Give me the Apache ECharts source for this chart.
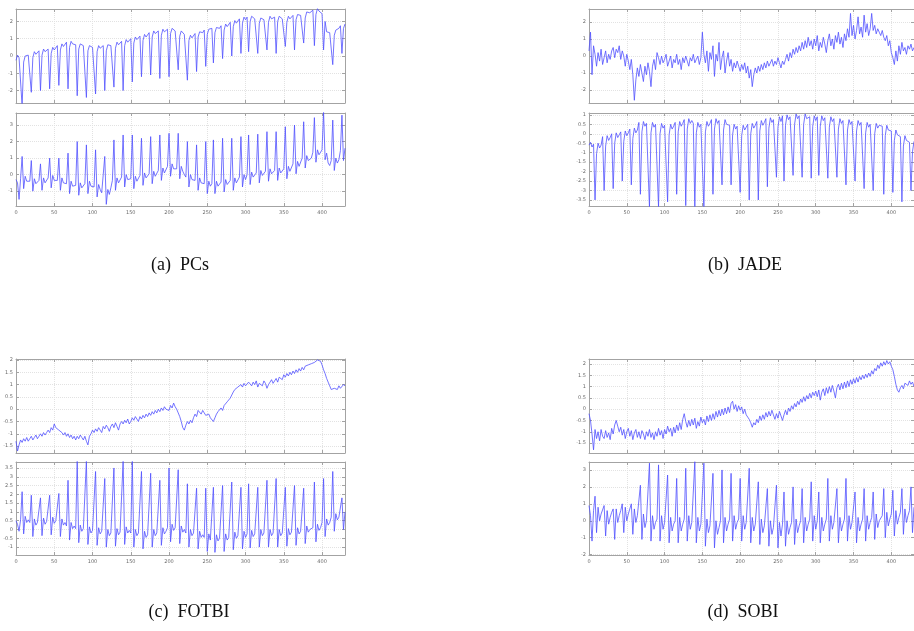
<!DOCTYPE html>
<html><head><meta charset="utf-8">
<script src="https://cdn.jsdelivr.net/npm/echarts@6/dist/echarts.min.js"></script>
<style>html,body{margin:0;padding:0;background:#fff}#c{width:914px;height:631px}</style>
</head><body><div id="c"></div>
<script>
// sample spacing along the x axis (samples are evenly spaced)
const SAMPLE_STEP = 2;
const X_MIN = 0, X_MAX = 430, X_TICK = 50;
const captions = ['(a)\u2002PCs', '(b)\u2002JADE', '(c)\u2002FOTBI', '(d)\u2002SOBI'];

// (a) PCs – upper trace
const pcsTop = [
-0.25,0.05,-0.1,
-0.1,-2.9,-0.35,0.0,-0.1,0.05,
0.15,-2.1,-0.1,0.25,0.1,0.15,
0.3,-2.0,0.05,0.4,0.25,0.3,
0.4,-1.9,0.15,0.5,0.35,0.4,
0.6,-1.7,0.35,0.7,0.55,0.6,
0.8,-1.9,0.5,0.85,0.7,0.75,
0.65,-2.3,0.4,0.7,0.6,0.6,
0.55,-2.4,0.3,0.6,0.5,0.5,
0.5,-2.2,0.25,0.6,0.45,0.5,
0.6,-2.0,0.3,0.65,0.55,0.6,
0.7,-1.8,0.45,0.8,0.65,0.7,
0.85,-2.0,0.6,0.95,0.8,0.85,
1.0,-1.5,0.75,1.1,0.95,1.0,
1.15,-1.2,0.9,1.25,1.1,1.2,
1.35,-1.1,1.1,1.45,1.3,1.35,
1.45,-1.3,1.2,1.55,1.4,1.45,
1.55,-1.2,1.3,1.6,1.5,1.45,
1.4,-0.8,1.15,1.45,1.35,1.25,
1.15,-1.4,0.9,1.2,1.05,1.15,
1.3,-0.9,1.1,1.4,1.3,1.35,
1.5,-0.6,1.25,1.55,1.45,
1.6,-0.4,1.35,1.65,1.55,1.6,
1.75,-0.15,1.5,1.85,1.7,1.8,
1.95,0.0,1.7,2.05,1.9,2.0,
2.15,0.15,1.9,2.25,2.1,
2.25,0.25,2.0,2.3,2.2,2.15,
2.15,0.15,1.9,2.2,2.1,2.1,
2.2,0.35,1.95,2.3,2.15,2.2,
2.25,0.15,2.0,2.3,2.2,2.15,
2.2,0.55,1.95,2.3,2.15,2.2,
2.35,0.35,2.1,2.4,2.3,2.35,
2.45,0.75,2.2,2.55,2.45,2.5,2.55,
2.65,0.6,2.4,2.75,2.6,2.5,
2.45,0.35,2.0,1.4,1.3,1.35,
1.45,-0.5,1.2,1.5,1.4,1.6,
1.75,0.15,1.6,1.85
];
// (a) PCs – lower trace
const pcsBottom = [
-0.3,-0.5,-1.5,
-0.25,1.1,-0.85,-0.1,-0.4,-0.5,
-0.4,0.85,-1.0,-0.25,-0.55,-0.65,
-0.35,0.65,-0.95,-0.2,-0.5,-0.6,
-0.2,1.0,-0.8,-0.05,-0.35,-0.45,
-0.35,1.0,-0.95,-0.2,-0.5,-0.6,
-0.55,1.3,-1.15,-0.4,-0.7,-0.8,
-0.65,2.0,-1.25,-0.5,-0.8,-0.9,
-0.55,1.8,-1.15,-0.4,-0.7,-0.8,
-0.75,1.5,-1.35,-0.6,-0.9,-1.1,
-1.05,1.1,-1.8,-0.9,-1.2,-0.8,
-0.35,2.1,-0.95,-0.2,-0.5,-0.55,
-0.15,2.4,-0.75,0.0,-0.3,-0.4,
-0.25,2.4,-0.85,-0.1,-0.4,-0.35,
-0.05,2.2,-0.65,0.1,-0.2,-0.2,
0.05,2.3,-0.55,0.2,-0.1,0.0,
0.25,2.4,-0.35,0.4,0.1,0.15,
0.5,2.5,-0.1,0.65,0.35,0.3,
0.35,2.5,-0.25,0.5,0.2,0.0,
-0.15,2.0,-0.75,0.0,-0.3,-0.4,
-0.35,1.8,-0.95,-0.2,-0.5,-0.6,
-0.55,2.0,-1.15,-0.4,-0.7,
-0.55,2.1,-1.15,-0.4,-0.7,-0.65,
-0.45,2.2,-1.05,-0.3,-0.6,-0.55,
-0.35,2.2,-0.95,-0.2,-0.5,-0.45,
-0.15,2.3,-0.75,0.0,-0.3,
0.0,2.4,-0.6,0.15,-0.15,-0.1,
0.1,2.45,-0.5,0.25,-0.05,0.0,
0.2,2.6,-0.4,0.35,0.05,0.05,
0.25,2.6,-0.35,0.4,0.1,0.15,
0.35,2.9,-0.25,0.5,0.2,0.3,
0.65,3.0,0.05,0.8,0.5,0.6,
1.0,3.2,0.4,1.15,0.85,0.9,1.0,
1.35,3.45,0.75,1.5,1.2,1.25,
1.5,3.8,0.9,1.3,0.7,0.55,
0.85,3.3,0.25,1.0,0.7,0.9,
1.45,3.6,0.85,1.6
];
// (b) JADE – upper trace
const jadeTop = [
0.3,1.4,-1.1,0.6,0.1,-0.6,0.2,-0.3,0.4,-0.5,
-0.1,0.3,-0.4,0.1,-0.2,0.3,0.5,-0.1,0.4,0.2,
0.6,-0.2,0.3,0.0,-0.6,0.1,-0.3,-0.8,-0.2,-1.1,
-2.6,-1.4,-0.7,-1.2,-0.5,-1.0,-1.5,-0.6,-1.1,-0.4,
-0.9,-1.8,-0.6,-0.2,-0.8,0.2,-0.1,-0.5,0.0,-0.4,
-0.2,0.1,-0.6,-0.3,0.0,-0.7,-0.2,-0.4,0.1,-0.5,
-0.2,-0.8,-0.1,-0.4,0.0,-0.3,-0.6,-0.1,-0.3,0.1,
-0.4,-0.2,0.0,-0.5,-0.1,1.4,0.1,-0.4,0.3,-0.9,
0.2,-0.2,0.6,-1.2,0.1,-0.3,0.8,-0.8,-0.1,0.3,
-1.0,-0.3,0.2,-0.6,-0.2,-0.9,-0.4,-0.7,-0.3,-0.6,
-0.9,-0.5,-0.8,-0.4,-1.0,-0.6,-1.3,-0.8,-1.8,-1.1,
-0.7,-1.0,-0.6,-0.9,-0.5,-0.8,-0.4,-0.7,-0.3,-0.6,
-0.5,-0.2,-0.6,-0.3,-0.5,-0.1,-0.4,-0.7,-0.3,-0.5,
-0.2,0.1,-0.3,0.2,-0.1,0.4,0.1,0.5,0.2,0.6,
0.3,0.8,0.4,0.9,0.5,1.1,0.6,0.9,0.4,1.0,
0.6,1.2,0.3,0.8,0.5,1.1,0.7,0.2,0.9,1.3,
0.6,1.0,0.4,1.2,0.8,1.4,0.7,1.1,0.5,1.3,
0.9,1.6,1.1,2.5,1.2,1.8,1.0,1.5,2.3,1.3,
1.7,1.1,2.4,1.4,1.9,1.2,1.6,2.5,1.5,1.8,
1.3,1.6,1.4,1.2,1.5,1.1,0.9,1.2,0.6,0.9,
0.2,-0.1,-0.5,0.3,-0.3,0.6,0.1,0.8,0.3,0.5,
0.1,0.6,0.4,0.7,0.3,0.5
];
// (b) JADE – lower trace
const jadeBottom = [
-0.6,-0.45,-0.7,
-0.55,-3.5,-1.05,-0.5,-0.75,-0.6,
-0.15,-3.0,-0.65,-0.1,-0.35,-0.2,
0.0,-2.9,-0.5,0.05,-0.2,-0.05,
0.1,-2.5,-0.4,0.15,-0.1,0.05,
0.25,-2.7,-0.25,0.3,0.05,0.2,
0.6,-3.2,0.1,0.65,0.4,0.55,
0.55,-3.9,0.05,0.6,0.35,0.5,
0.5,-3.9,0.0,0.55,0.3,0.45,
0.45,-3.6,-0.05,0.5,0.25,0.4,
0.6,-3.2,0.1,0.65,0.4,0.55,
0.75,-3.8,0.25,0.8,0.55,0.7,
0.55,-3.9,0.05,0.6,0.35,0.5,
0.6,-3.9,0.1,0.65,0.4,0.55,
0.75,-3.2,0.25,0.8,0.55,0.7,
0.7,-2.7,0.2,0.75,0.5,0.6,
0.45,-2.7,-0.05,0.5,0.25,0.4,
0.4,-3.1,-0.1,0.45,0.2,0.35,
0.5,-3.5,0.0,0.55,0.3,0.45,
0.65,-3.5,0.15,0.7,0.45,0.6,
0.8,-2.8,0.3,0.85,0.6,0.75,
0.85,-2.3,0.35,0.9,0.65,
0.95,-2.5,0.45,1.0,0.75,0.9,
1.0,-2.2,0.5,1.05,0.8,0.95,
1.0,-2.3,0.5,1.05,0.8,0.9,
0.9,-2.35,0.4,0.95,0.7,
0.9,-2.2,0.4,0.95,0.7,0.85,
0.85,-2.35,0.35,0.9,0.65,0.8,
0.75,-2.3,0.25,0.8,0.55,0.7,
0.7,-2.7,0.2,0.75,0.5,0.65,
0.65,-2.5,0.15,0.7,0.45,0.6,
0.55,-2.9,0.05,0.6,0.35,0.5,
0.5,-3.0,0.0,0.55,0.3,0.45,0.4,
0.4,-3.2,-0.1,0.45,0.2,0.3,
0.15,-3.1,-0.35,0.2,-0.05,0.0,
-0.15,-3.6,-0.65,-0.1,-0.35,-0.3,
-0.45,-3.0,-0.95,-0.4
];
// (c) FOTBI – upper trace
const fotbiTop = [
-1.3,-1.7,-1.45,-1.25,-1.35,-1.2,-1.3,-1.15,-1.3,-1.2,
-1.1,-1.25,-1.15,-1.05,-1.2,-1.1,-1.0,-1.1,-0.95,-1.05,
-0.95,-0.85,-0.95,-0.75,-0.85,-0.6,-0.75,-0.7,-0.85,-0.8,
-0.95,-1.05,-0.95,-1.1,-1.0,-1.15,-1.05,-1.2,-1.1,-1.25,
-1.1,-1.2,-1.05,-1.15,-1.25,-1.1,-1.3,-1.45,-1.1,-1.0,
-0.85,-0.95,-0.8,-0.9,-0.75,-0.85,-0.95,-0.7,-0.8,-0.65,
-0.75,-0.9,-0.7,-0.6,-0.75,-0.55,-0.7,-0.85,-0.6,-0.5,
-0.6,-0.45,-0.55,-0.4,-0.6,-0.5,-0.35,-0.45,-0.3,-0.4,
-0.5,-0.3,-0.4,-0.25,-0.35,-0.2,-0.3,-0.15,-0.25,-0.1,
-0.2,-0.05,-0.15,0.0,-0.1,0.05,-0.05,0.1,0.0,0.05,
-0.05,0.15,0.05,0.25,0.1,0.0,-0.15,-0.3,-0.5,-0.75,
-0.85,-0.65,-0.5,-0.6,-0.45,-0.55,-0.35,-0.2,-0.3,-0.05,
-0.1,-0.2,-0.05,-0.15,-0.25,-0.3,-0.2,-0.35,-0.4,-0.5,
-0.35,-0.2,-0.1,-0.05,0.05,-0.05,0.15,0.1,0.3,0.25,
0.45,0.5,0.7,0.8,0.75,0.9,0.85,1.0,0.9,1.05,
0.95,1.0,1.1,1.05,0.95,1.1,1.0,1.15,0.9,1.05,
1.1,0.95,1.15,1.05,0.85,1.0,1.1,1.2,1.05,1.15,
1.25,1.1,1.3,1.35,1.2,1.4,1.3,1.45,1.35,1.5,
1.4,1.55,1.45,1.6,1.5,1.65,1.55,1.7,1.6,1.75,
1.7,1.8,1.75,1.85,1.8,1.9,1.95,2.0,2.05,1.95,
1.8,1.6,1.45,1.25,1.1,0.95,0.8,0.75,0.85,0.9,
0.8,0.95,0.85,0.9,1.0,0.95
];
// (c) FOTBI – lower trace
const fotbiBottom = [
0.5,0.3,-0.1,
0.55,2.15,-0.25,0.75,0.4,0.55,
0.4,1.95,-0.4,0.6,0.25,0.4,
0.45,1.8,-0.35,0.65,0.3,0.45,
0.5,1.95,-0.3,0.7,0.35,0.5,
0.4,2.05,-0.4,0.6,0.25,0.4,
0.2,2.8,-0.6,0.4,0.05,0.2,
0.05,3.9,-0.75,0.25,-0.1,0.05,
-0.05,3.9,-0.85,0.15,-0.2,-0.05,
-0.1,3.3,-0.9,0.1,-0.25,-0.1,
-0.2,2.9,-1.0,0.0,-0.35,-0.2,
-0.15,3.5,-0.95,0.05,-0.3,-0.15,
-0.05,3.9,-0.85,0.15,-0.2,-0.05,
-0.2,3.9,-1.0,0.0,-0.35,-0.2,
-0.3,3.3,-1.1,-0.1,-0.45,-0.3,
-0.2,3.2,-1.0,0.0,-0.35,-0.2,
-0.1,2.8,-0.9,0.1,-0.25,-0.1,
0.1,3.5,-0.7,0.3,-0.05,0.1,
0.0,3.4,-0.8,0.2,-0.15,0.0,
-0.2,2.6,-1.0,0.0,-0.35,-0.2,
-0.3,2.35,-1.1,-0.1,-0.45,-0.3,
-0.45,2.35,-1.25,-0.25,-0.6,
-0.5,2.4,-1.3,-0.3,-0.65,-0.5,
-0.45,2.5,-1.25,-0.25,-0.6,-0.45,
-0.35,2.7,-1.15,-0.15,-0.5,-0.35,
-0.3,2.4,-1.1,-0.1,-0.45,
-0.25,2.6,-1.05,-0.05,-0.4,-0.25,
-0.2,2.4,-1.0,0.0,-0.35,-0.2,
-0.2,2.8,-1.0,0.0,-0.35,-0.2,
-0.2,2.9,-1.0,0.0,-0.35,-0.2,
-0.15,2.4,-0.95,0.05,-0.3,-0.15,
-0.1,2.5,-0.9,0.1,-0.25,-0.1,
0.0,2.35,-0.8,0.2,-0.15,0.0,0.05,
0.1,2.7,-0.7,0.3,-0.05,0.1,
0.4,2.9,-0.4,0.6,0.25,0.4,
0.7,3.3,-0.1,0.9,0.55,0.7,
0.8,1.8,0.0,1.0
];
// (d) SOBI – upper trace
const sobiTop = [
-0.2,-0.5,-1.1,-1.8,-0.9,-1.3,-1.0,-1.4,-0.9,-1.2,
-1.3,-0.95,-1.25,-1.05,-1.35,-0.85,-1.1,-0.7,-0.5,-0.75,
-1.0,-0.8,-1.15,-0.9,-1.3,-1.0,-0.85,-1.2,-0.95,-1.35,
-1.05,-0.9,-1.25,-1.0,-1.3,-0.95,-1.1,-1.35,-1.0,-1.2,
-0.9,-1.25,-1.05,-1.35,-1.0,-1.2,-0.85,-1.15,-0.95,-1.3,
-0.9,-1.1,-0.75,-1.0,-0.85,-1.2,-0.8,-1.05,-0.7,-0.95,
-0.6,-0.9,-0.45,-0.2,-0.55,-0.8,-0.5,-0.75,-0.45,-0.7,
-0.4,-0.85,-0.55,-0.75,-0.35,-0.6,-0.45,-0.7,-0.3,-0.55,
-0.25,-0.5,-0.2,-0.45,-0.1,-0.35,-0.05,-0.3,0.0,-0.25,
0.05,-0.2,0.1,-0.15,0.25,0.35,0.0,0.2,-0.1,0.15,
-0.05,0.1,-0.2,0.0,-0.25,-0.35,-0.45,-0.6,-0.8,-0.6,
-0.7,-0.45,-0.6,-0.3,-0.5,-0.25,-0.45,-0.15,-0.35,-0.1,
-0.3,-0.05,-0.25,-0.45,-0.2,-0.4,-0.1,-0.3,-0.5,-0.25,
-0.05,-0.25,0.05,-0.1,0.15,0.0,0.25,0.1,0.35,0.2,
0.45,0.3,0.55,0.35,0.6,0.45,0.7,0.5,0.75,0.6,
0.8,0.55,0.85,0.4,0.75,0.9,0.6,0.95,0.7,1.0,
0.75,1.05,0.8,0.5,0.95,1.1,0.85,1.15,0.9,1.2,
0.95,1.25,1.0,1.3,1.1,1.35,1.15,1.4,1.2,1.45,
1.3,1.5,1.35,1.55,1.4,1.6,1.45,1.7,1.55,1.8,
1.7,1.95,1.8,2.05,1.9,2.1,1.95,2.15,2.0,2.1,
1.9,1.75,1.45,1.1,0.85,0.75,0.95,1.05,0.9,1.15,
1.2,1.05,1.25,1.1,1.2,1.0
];
// (d) SOBI – lower trace
const sobiBottom = [
0.9,0.3,-1.2,
0.6,1.45,-0.7,0.8,0.0,0.4,
0.4,0.9,-0.9,0.6,-0.2,0.2,
0.5,0.7,-1.1,0.7,-0.1,0.3,
0.6,1.0,-0.7,0.8,0.0,0.4,
0.5,1.0,-0.8,0.7,-0.1,0.3,
0.2,2.1,-1.1,0.4,-0.4,0.0,
0.1,3.4,-1.2,0.3,-0.5,-0.1,
0.1,3.3,-1.2,0.3,-0.5,-0.1,
0.0,2.7,-1.3,0.2,-0.6,-0.2,
0.0,2.5,-1.3,0.2,-0.6,-0.2,
0.1,3.1,-1.2,0.3,-0.5,-0.1,
0.0,3.5,-1.3,0.2,-0.6,-0.2,
-0.1,3.4,-1.5,0.1,-0.7,-0.3,
-0.2,2.8,-1.6,0.0,-0.8,-0.4,
0.0,3.0,-1.3,0.2,-0.6,-0.2,
0.1,2.8,-1.2,0.3,-0.5,-0.1,
0.1,2.5,-1.2,0.3,-0.5,-0.1,
0.0,3.1,-1.3,0.2,-0.6,-0.2,
-0.1,2.3,-1.4,0.1,-0.7,-0.3,
-0.2,1.9,-1.5,0.0,-0.8,-0.4,
-0.3,2.1,-1.6,-0.1,-0.9,
-0.2,1.7,-1.5,0.0,-0.8,-0.4,
-0.1,2.0,-1.4,0.1,-0.7,-0.3,
0.0,1.9,-1.3,0.2,-0.6,-0.2,
0.1,2.3,-1.2,0.3,-0.5,
0.0,1.7,-1.3,0.2,-0.6,-0.2,
0.1,2.5,-1.2,0.3,-0.5,-0.1,
0.0,1.9,-1.3,0.2,-0.6,-0.2,
0.1,2.5,-1.2,0.3,-0.5,-0.1,
0.0,1.7,-1.3,0.2,-0.6,-0.2,
0.1,1.9,-1.2,0.3,-0.5,-0.1,
0.2,1.7,-1.1,0.4,-0.4,0.0,0.1,
0.3,1.9,-1.0,0.5,-0.3,0.1,
0.4,1.8,-0.9,0.6,-0.2,0.2,
0.5,1.9,-0.8,0.7,-0.1,0.3,
0.6,2.0,-0.7,0.8
];

// ---------- layout / styling ----------
const LINE = '#5050ff', FRAME = '#a3a3a3', GRIDC = '#e2e2e2', LBL = '#6a6a6a';
const LEFT_X = 16, RIGHT_X = 589, W = 329;
const panels = [
  {data: pcsTop,      left: LEFT_X,  top: 9,   h: 94, ymin: -2.72, ymax: 2.72, step: 1,   xl: false},
  {data: pcsBottom,   left: LEFT_X,  top: 113, h: 93, ymin: -1.9,  ymax: 3.73, step: 1,   xl: true},
  {data: jadeTop,     left: RIGHT_X, top: 9,   h: 94, ymin: -2.76, ymax: 2.76, step: 1,   xl: false},
  {data: jadeBottom,  left: RIGHT_X, top: 113, h: 93, ymin: -3.82, ymax: 1.1,  step: 0.5, xl: true},
  {data: fotbiTop,    left: LEFT_X,  top: 359, h: 94, ymin: -1.78, ymax: 2.04, step: 0.5, xl: false},
  {data: fotbiBottom, left: LEFT_X,  top: 462, h: 93, ymin: -1.45, ymax: 3.84, step: 0.5, xl: true},
  {data: sobiTop,     left: RIGHT_X, top: 359, h: 94, ymin: -1.94, ymax: 2.22, step: 0.5, xl: false},
  {data: sobiBottom,  left: RIGHT_X, top: 462, h: 93, ymin: -2.02, ymax: 3.47, step: 1,   xl: true}
];
const captionPos = [[180, 265], [745, 265], [189, 612], [743, 612]];

const grid = [], xAxis = [], yAxis = [], series = [];
panels.forEach((p, k) => {
  grid.push({left: p.left, top: p.top, width: W, height: p.h, containLabel: false});
  const line = {show: true, onZero: false, lineStyle: {color: FRAME, width: 1}};
  const tick = {show: true, inside: true, length: 3, lineStyle: {color: FRAME, width: 1}};
  const xBase = {gridIndex: k, type: 'value', min: X_MIN, max: X_MAX, interval: X_TICK, axisLine: line, axisTick: tick};
  xAxis.push(Object.assign({}, xBase, {position: 'bottom',
    axisLabel: {show: p.xl, fontSize: 5, color: LBL, margin: 4, showMaxLabel: false, fontFamily: 'DejaVu Sans'},
    splitLine: {show: true, lineStyle: {color: GRIDC, type: 'dotted', width: 1}}}));
  xAxis.push(Object.assign({}, xBase, {position: 'top', axisLabel: {show: false}, splitLine: {show: false}}));
  const yBase = {gridIndex: k, type: 'value', min: p.ymin, max: p.ymax, minInterval: p.step, maxInterval: p.step,
    axisLine: line, axisTick: tick};
  yAxis.push(Object.assign({}, yBase, {position: 'left',
    axisLabel: {show: true, fontSize: 5, color: LBL, margin: 3, showMinLabel: false, showMaxLabel: false, fontFamily: 'DejaVu Sans'},
    splitLine: {show: true, lineStyle: {color: GRIDC, type: 'dotted', width: 1}}}));
  yAxis.push(Object.assign({}, yBase, {position: 'right', axisLabel: {show: false}, splitLine: {show: false}}));
  series.push({type: 'line', xAxisIndex: 2 * k, yAxisIndex: 2 * k, showSymbol: false, symbol: 'none',
    clip: true, animation: false, lineStyle: {color: LINE, width: 0.8},
    data: p.data.map((v, i) => [i * SAMPLE_STEP, v])});
});

const graphic = captions.map((t, i) => ({
  type: 'text', x: captionPos[i][0], y: captionPos[i][1],
  style: {text: t, textAlign: 'center', textVerticalAlign: 'middle', fill: '#111',
          font: '18px "Liberation Serif", "DejaVu Serif", serif'}
}));

const chart = echarts.init(document.getElementById('c'), null, {renderer: 'canvas'});
chart.setOption({backgroundColor: '#fff', animation: false, grid, xAxis, yAxis, series, graphic});
</script>
</body></html>
